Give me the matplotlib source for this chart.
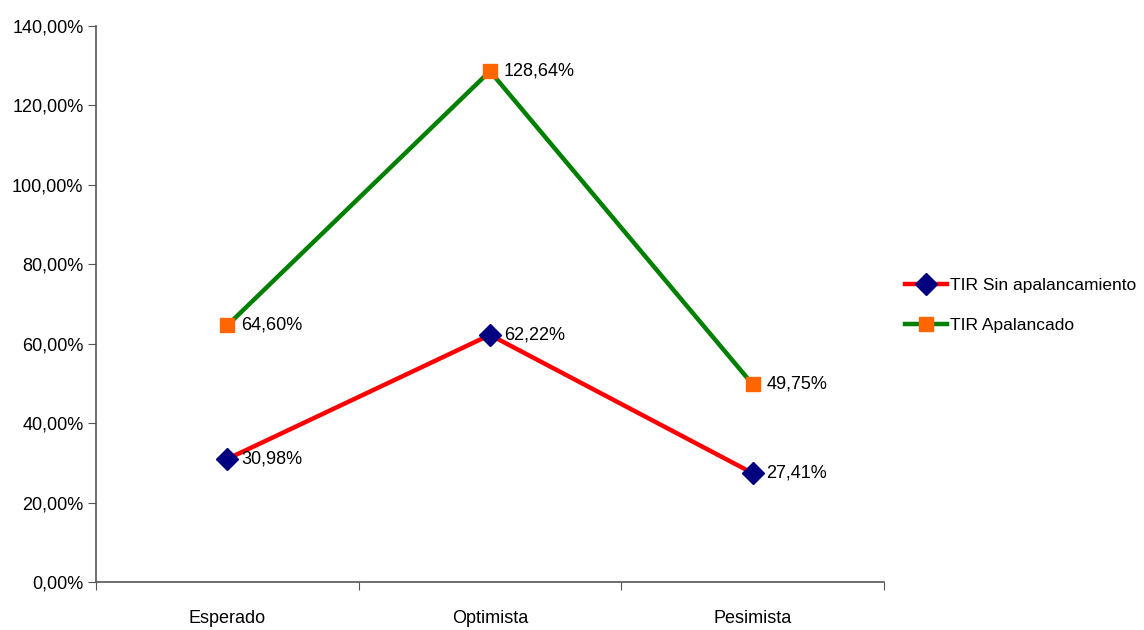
import numpy as np
import matplotlib.pyplot as plt
from matplotlib.ticker import FuncFormatter

plt.rcParams['font.family'] = ['Liberation Sans Narrow', 'Liberation Sans', 'DejaVu Sans']

# escenarios y TIR (en fraccion)
escenarios = ['Esperado', 'Optimista', 'Pesimista']
tir_sin_apalancamiento = [0.3098, 0.6222, 0.2741]
tir_apalancado = [0.6460, 1.2864, 0.4975]

def pct(v, pos=None):
    return '{:.2f}%'.format(v * 100).replace('.', ',')

fig = plt.figure(figsize=(11.44, 6.3), dpi=100)
ax = fig.add_axes([0.0839, 0.0762, 0.6888, 0.8825])

x = np.arange(len(escenarios)) + 0.5

ax.plot(x, tir_sin_apalancamiento, color='#ff0000', lw=3.2, marker='D',
        ms=11, mfc='#000080', mec='#000080', label='TIR Sin apalancamiento', zorder=3)
ax.plot(x, tir_apalancado, color='#008000', lw=3.2, marker='s',
        ms=10, mfc='#ff6600', mec='#ff6600', label='TIR Apalancado', zorder=3)

# etiquetas de valor a la derecha de cada punto
for serie in (tir_sin_apalancamiento, tir_apalancado):
    for xi, v in zip(x, serie):
        ax.annotate(pct(v), (xi, v), xytext=(10, 0), textcoords='offset points',
                    ha='left', va='center', fontsize=13, color='black', zorder=4)

ax.set_xlim(0, 3)
ax.set_ylim(0, 1.4)
ax.set_yticks(np.arange(0, 1.41, 0.2))
ax.yaxis.set_major_formatter(FuncFormatter(pct))

ax.set_xticks([0, 1, 2, 3])
ax.set_xticklabels([])
ax.set_xticks(x, minor=True)
ax.set_xticklabels(escenarios, minor=True)
ax.tick_params(axis='x', which='minor', length=0, pad=20, labelsize=13)
ax.tick_params(axis='x', which='major', length=6, direction='out', color='#555555')
ax.tick_params(axis='y', length=6, direction='out', color='#555555', labelsize=13, pad=3)

for s in ('top', 'right'):
    ax.spines[s].set_visible(False)
for s in ('left', 'bottom'):
    ax.spines[s].set_color('#555555')
    ax.spines[s].set_linewidth(1.2)

ax.legend(loc='center left', bbox_to_anchor=(1.027, 0.497), frameon=False,
          borderaxespad=0, borderpad=0, fontsize=12.5, handlelength=2.4,
          handletextpad=0.15, labelspacing=1.45)

fig.savefig('out.png', dpi=100)
